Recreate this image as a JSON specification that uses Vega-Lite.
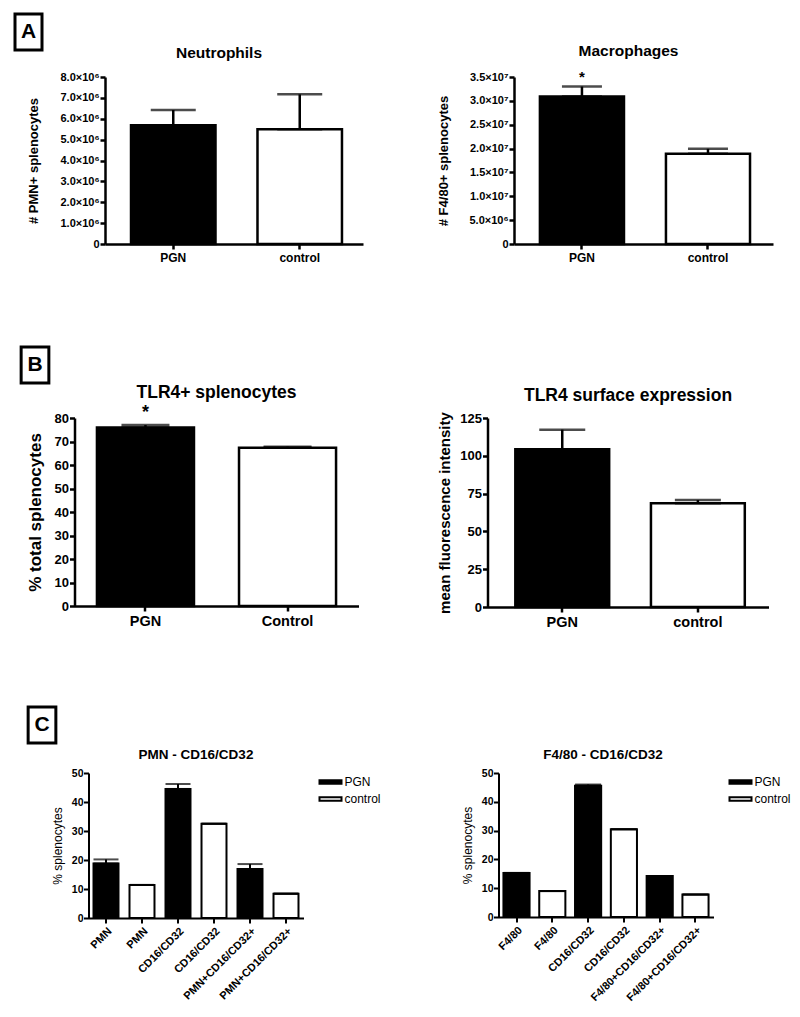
{
  "$schema": "https://vega.github.io/schema/vega-lite/v6.json",
  "background": "white",
  "padding": {"left": 9, "top": 8, "right": 0, "bottom": 0},
  "spacing": 70,
  "resolve": {"scale": {"fill": "independent"}, "legend": {"fill": "independent"}},
  "vconcat": [
    {
      "spacing": -21,
      "resolve": {"scale": {"fill": "independent"}, "legend": {"fill": "independent"}},
      "hconcat": [
        {
          "width": 39, "height": 48,
          "data": {"values": [{"label": "A"}]},
          "layer": [
            {"mark": {"type": "point", "shape": "M-0.75,-1H0.75V1H-0.75Z", "size": 1296, "filled": true, "fill": "white", "stroke": "black", "strokeWidth": 3, "opacity": 1}, "encoding": {}},
            {"mark": {"type": "text", "fontSize": 21, "fontWeight": "bold", "baseline": "middle", "align": "center", "color": "black"}, "encoding": {"text": {"field": "label"}}}
          ]
        },
        {
          "spacing": 35,
          "resolve": {"scale": {"fill": "independent"}, "legend": {"fill": "independent"}},
          "vconcat": [
            {"width": 1, "height": 1, "data": {"values": []}, "mark": "point"},
            {
              "resolve": {"scale": {"fill": "independent"}, "legend": {"fill": "independent"}},
              "bounds": "flush",
              "spacing": 151,
              "hconcat": [
                {
                  "width": 258, "height": 167,
                  "title": {"text": "Neutrophils", "fontSize": 15.5, "offset": 10, "dx": -15},
                  "data": {"values": [
                    {"group": "PGN", "value": 5690000, "err": 6420000},
                    {"group": "control", "value": 5500000, "err": 7170000}
                  ]},
                  "encoding": {
                    "x": {"field": "group", "type": "nominal", "sort": null, "scale": {"paddingInner": 0.332, "paddingOuter": 0.186, "align": 0.553}, "axis": {"title": null, "labelAngle": 0, "labelFontSize": 12, "labelPadding": 3, "domainWidth": 2.5, "tickWidth": 2.5, "tickSize": 5}},
                    "y": {"field": "value", "type": "quantitative", "title": "# PMN+ splenocytes", "scale": {"domain": [0, 8000000], "nice": false}, "axis": {"values": [0, 1000000, 2000000, 3000000, 4000000, 5000000, 6000000, 7000000, 8000000], "labelExpr": "datum.value == 0 ? '0' : format(datum.value / 1000000, '.1f') + '×10⁶'", "labelFontSize": 11, "labelPadding": 1, "titleFontSize": 13, "titlePadding": 19.5, "domainWidth": 2.5, "tickWidth": 2.5, "tickSize": 5}}
                  },
                  "layer": [
                    {"mark": {"type": "bar", "stroke": "black", "strokeWidth": 2.5}, "encoding": {"fill": {"field": "group", "type": "nominal", "scale": {"domain": ["PGN", "control"], "range": ["black", "white"]}, "legend": null}}},
                    {"mark": {"type": "errorbar", "ticks": true, "size": 45, "thickness": 2.5, "color": "black"}, "encoding": {"y2": {"field": "err"}}}
                  ]
                },
                {
                  "width": 259, "height": 167,
                  "title": {"text": "Macrophages", "fontSize": 15.5, "offset": 10, "dx": -15},
                  "data": {"values": [
                    {"group": "PGN", "value": 30900000, "err": 33000000, "sig": "*"},
                    {"group": "control", "value": 18900000, "err": 19950000, "sig": ""}
                  ]},
                  "encoding": {
                    "x": {"field": "group", "type": "nominal", "sort": null, "scale": {"paddingInner": 0.333, "paddingOuter": 0.194, "align": 0.53}, "axis": {"title": null, "labelAngle": 0, "labelFontSize": 12, "labelPadding": 3, "domainWidth": 2.5, "tickWidth": 2.5, "tickSize": 5}},
                    "y": {"field": "value", "type": "quantitative", "title": "# F4/80+ splenocytes", "scale": {"domain": [0, 35000000], "nice": false}, "axis": {"values": [0, 5000000, 10000000, 15000000, 20000000, 25000000, 30000000, 35000000], "labelExpr": "datum.value == 0 ? '0' : datum.value < 10000000 ? format(datum.value / 1000000, '.1f') + '×10⁶' : format(datum.value / 10000000, '.1f') + '×10⁷'", "labelFontSize": 11, "labelPadding": 1, "titleFontSize": 13, "titlePadding": 18.5, "domainWidth": 2.5, "tickWidth": 2.5, "tickSize": 5}}
                  },
                  "layer": [
                    {"mark": {"type": "bar", "stroke": "black", "strokeWidth": 2.5}, "encoding": {"fill": {"field": "group", "type": "nominal", "scale": {"domain": ["PGN", "control"], "range": ["black", "white"]}, "legend": null}}},
                    {"mark": {"type": "errorbar", "ticks": true, "size": 40, "thickness": 2.5, "color": "black"}, "encoding": {"y2": {"field": "err"}}},
                    {"mark": {"type": "text", "fontSize": 15, "fontWeight": "bold", "baseline": "alphabetic", "dy": -5, "color": "black"}, "encoding": {
                      "y": {"field": "err", "type": "quantitative", "title": "# F4/80+ splenocytes", "scale": {"domain": [0, 35000000], "nice": false}},
                      "text": {"field": "sig"}
                    }}
                  ]
                }
              ]
            }
          ]
        }
      ]
    },
    {
      "spacing": -34.5,
      "resolve": {"scale": {"fill": "independent"}, "legend": {"fill": "independent"}},
      "hconcat": [
        {
          "width": 52, "height": 64,
          "data": {"values": [{"label": "B"}]},
          "layer": [
            {"mark": {"type": "point", "shape": "M-0.77,-1H0.77V1H-0.77Z", "size": 1296, "filled": true, "fill": "white", "stroke": "black", "strokeWidth": 3, "opacity": 1}, "encoding": {}},
            {"mark": {"type": "text", "fontSize": 21, "fontWeight": "bold", "baseline": "middle", "align": "center", "color": "black"}, "encoding": {"text": {"field": "label"}}}
          ]
        },
        {
          "spacing": 49,
          "resolve": {"scale": {"fill": "independent"}, "legend": {"fill": "independent"}},
          "vconcat": [
            {"width": 1, "height": 1, "data": {"values": []}, "mark": "point"},
            {
              "resolve": {"scale": {"fill": "independent"}, "legend": {"fill": "independent"}},
              "bounds": "flush",
              "spacing": 129,
              "hconcat": [
                {
                  "width": 284, "height": 188,
                  "title": {"text": "TLR4+ splenocytes", "fontSize": 17.5, "offset": 3},
                  "data": {"values": [
                    {"group": "PGN", "value": 76.0, "err": 77.0, "sig": "*"},
                    {"group": "Control", "value": 67.3, "err": 67.8, "sig": ""}
                  ]},
                  "encoding": {
                    "x": {"field": "group", "type": "nominal", "sort": null, "scale": {"paddingInner": 0.317, "paddingOuter": 0.158, "align": 0.5}, "axis": {"title": null, "labelAngle": 0, "labelFontSize": 14.5, "labelPadding": 3.5, "domainWidth": 2.5, "tickWidth": 2.5, "tickSize": 5}},
                    "y": {"field": "value", "type": "quantitative", "title": "% total splenocytes", "scale": {"domain": [0, 80], "nice": false}, "axis": {"values": [0, 10, 20, 30, 40, 50, 60, 70, 80], "labelFontSize": 13, "labelPadding": 1, "titleFontSize": 17, "titlePadding": 9.5, "domainWidth": 2.5, "tickWidth": 2.5, "tickSize": 5}}
                  },
                  "layer": [
                    {"mark": {"type": "bar", "stroke": "black", "strokeWidth": 2.5}, "encoding": {"fill": {"field": "group", "type": "nominal", "scale": {"domain": ["PGN", "Control"], "range": ["black", "white"]}, "legend": null}}},
                    {"mark": {"type": "errorbar", "ticks": true, "size": 48, "thickness": 2.5, "color": "black"}, "encoding": {"y2": {"field": "err"}}},
                    {"mark": {"type": "text", "fontSize": 18, "fontWeight": "bold", "baseline": "alphabetic", "dy": -7, "color": "black"}, "encoding": {
                      "y": {"field": "err", "type": "quantitative", "title": "% total splenocytes", "scale": {"domain": [0, 80], "nice": false}},
                      "text": {"field": "sig"}
                    }}
                  ]
                },
                {
                  "width": 281, "height": 189,
                  "title": {"text": "TLR4 surface expression", "fontSize": 17.5, "offset": 7.5},
                  "data": {"values": [
                    {"group": "PGN", "value": 104.3, "err": 117.3},
                    {"group": "control", "value": 68.7, "err": 70.7}
                  ]},
                  "encoding": {
                    "x": {"field": "group", "type": "nominal", "sort": null, "scale": {"paddingInner": 0.308, "paddingOuter": 0.19, "align": 0.54}, "axis": {"title": null, "labelAngle": 0, "labelFontSize": 14.5, "labelPadding": 3.5, "domainWidth": 2.5, "tickWidth": 2.5, "tickSize": 5}},
                    "y": {"field": "value", "type": "quantitative", "title": "mean fluorescence intensity", "scale": {"domain": [0, 125], "nice": false}, "axis": {"values": [0, 25, 50, 75, 100, 125], "labelFontSize": 13, "labelPadding": 1, "titleFontSize": 15, "titlePadding": 7, "domainWidth": 2.5, "tickWidth": 2.5, "tickSize": 5}}
                  },
                  "layer": [
                    {"mark": {"type": "bar", "stroke": "black", "strokeWidth": 2.5}, "encoding": {"fill": {"field": "group", "type": "nominal", "scale": {"domain": ["PGN", "control"], "range": ["black", "white"]}, "legend": null}}},
                    {"mark": {"type": "errorbar", "ticks": true, "size": 46, "thickness": 2.5, "color": "black"}, "encoding": {"y2": {"field": "err"}}}
                  ]
                }
              ]
            }
          ]
        }
      ]
    },
    {
      "spacing": -23.5,
      "resolve": {"scale": {"fill": "independent"}, "legend": {"fill": "independent"}},
      "hconcat": [
        {
          "width": 66, "height": 52,
          "data": {"values": [{"label": "C"}]},
          "layer": [
            {"mark": {"type": "point", "shape": "M-0.77,-1H0.77V1H-0.77Z", "size": 1296, "filled": true, "fill": "white", "stroke": "black", "strokeWidth": 3, "opacity": 1}, "encoding": {}},
            {"mark": {"type": "text", "fontSize": 21, "fontWeight": "bold", "baseline": "middle", "align": "center", "color": "black"}, "encoding": {"text": {"field": "label"}}}
          ]
        },
        {
          "spacing": 47,
          "resolve": {"scale": {"fill": "independent"}, "legend": {"fill": "independent"}},
          "vconcat": [
            {"width": 1, "height": 1, "data": {"values": []}, "mark": "point"},
            {
              "resolve": {"scale": {"fill": "independent"}, "legend": {"fill": "independent"}},
              "bounds": "flush",
              "spacing": 195,
              "hconcat": [
                {
                  "width": 215, "height": 145,
                  "title": {"text": "PMN - CD16/CD32", "fontSize": 13.5, "offset": 7},
                  "data": {"values": [
                    {"key": "PMN|PGN", "group": "PGN", "value": 18.8, "err": 20.2},
                    {"key": "PMN|control", "group": "control", "value": 11.4, "err": 11.4},
                    {"key": "CD16/CD32|PGN", "group": "PGN", "value": 44.5, "err": 46.2},
                    {"key": "CD16/CD32|control", "group": "control", "value": 32.5, "err": 32.5},
                    {"key": "PMN+CD16/CD32+|PGN", "group": "PGN", "value": 16.9, "err": 18.6},
                    {"key": "PMN+CD16/CD32+|control", "group": "control", "value": 8.4, "err": 8.4}
                  ]},
                  "encoding": {
                    "x": {"field": "key", "type": "nominal", "sort": null, "scale": {"paddingInner": 0.306, "paddingOuter": 0.139}, "axis": {"title": null, "labelAngle": -45, "labelExpr": "split(datum.label, '|')[0]", "labelFontSize": 11, "labelPadding": 2, "domainWidth": 2, "tickWidth": 2, "tickSize": 5}},
                    "y": {"field": "value", "type": "quantitative", "title": "% splenocytes", "scale": {"domain": [0, 50], "nice": false}, "axis": {"values": [0, 10, 20, 30, 40, 50], "labelFontSize": 10.5, "labelPadding": 0.5, "titleFontSize": 12, "titleFontWeight": "normal", "titlePadding": 6.5, "domainWidth": 2, "tickWidth": 2, "tickSize": 5}}
                  },
                  "layer": [
                    {"mark": {"type": "bar", "stroke": "black", "strokeWidth": 2}, "encoding": {"fill": {"field": "group", "type": "nominal", "scale": {"domain": ["PGN", "control"], "range": ["black", "white"]}, "legend": {"orient": "right", "title": null, "offset": 18, "padding": 0, "symbolType": "M-1.375,-0.22H1.375V0.22H-1.375Z", "symbolSize": 256, "symbolStrokeColor": "black", "symbolStrokeWidth": 2, "labelFontSize": 12, "labelFontWeight": "normal", "labelOffset": 5, "rowPadding": 2, "encode": {"symbols": {"update": {"stroke": {"value": "black"}, "strokeWidth": {"value": 2}}}}}}}},
                    {"mark": {"type": "errorbar", "ticks": true, "size": 25, "thickness": 2, "color": "black"}, "encoding": {"y2": {"field": "err"}}}
                  ]
                },
                {
                  "width": 215, "height": 144,
                  "title": {"text": "F4/80 - CD16/CD32", "fontSize": 13.5, "offset": 7, "dx": -3},
                  "data": {"values": [
                    {"key": "F4/80|PGN", "group": "PGN", "value": 15.3, "err": 15.3},
                    {"key": "F4/80|control", "group": "control", "value": 9.0, "err": 9.0},
                    {"key": "CD16/CD32|PGN", "group": "PGN", "value": 45.6, "err": 46.0},
                    {"key": "CD16/CD32|control", "group": "control", "value": 30.5, "err": 30.5},
                    {"key": "F4/80+CD16/CD32+|PGN", "group": "PGN", "value": 14.2, "err": 14.2},
                    {"key": "F4/80+CD16/CD32+|control", "group": "control", "value": 7.8, "err": 7.8}
                  ]},
                  "encoding": {
                    "x": {"field": "key", "type": "nominal", "sort": null, "scale": {"paddingInner": 0.27, "paddingOuter": 0.138}, "axis": {"title": null, "labelAngle": -45, "labelExpr": "split(datum.label, '|')[0]", "labelFontSize": 11, "labelPadding": 2, "domainWidth": 2, "tickWidth": 2, "tickSize": 5}},
                    "y": {"field": "value", "type": "quantitative", "title": "% splenocytes", "scale": {"domain": [0, 50], "nice": false}, "axis": {"values": [0, 10, 20, 30, 40, 50], "labelFontSize": 10.5, "labelPadding": 0.5, "titleFontSize": 12, "titleFontWeight": "normal", "titlePadding": 6.5, "domainWidth": 2, "tickWidth": 2, "tickSize": 5}}
                  },
                  "layer": [
                    {"mark": {"type": "bar", "stroke": "black", "strokeWidth": 2}, "encoding": {"fill": {"field": "group", "type": "nominal", "scale": {"domain": ["PGN", "control"], "range": ["black", "white"]}, "legend": {"orient": "right", "title": null, "offset": 18, "padding": 0, "symbolType": "M-1.375,-0.22H1.375V0.22H-1.375Z", "symbolSize": 256, "symbolStrokeColor": "black", "symbolStrokeWidth": 2, "labelFontSize": 12, "labelFontWeight": "normal", "labelOffset": 5, "rowPadding": 2, "encode": {"symbols": {"update": {"stroke": {"value": "black"}, "strokeWidth": {"value": 2}}}}}}}},
                    {"mark": {"type": "errorbar", "ticks": true, "size": 26, "thickness": 2, "color": "black"}, "encoding": {"y2": {"field": "err"}}}
                  ]
                }
              ]
            }
          ]
        }
      ]
    }
  ],
  "config": {
    "font": "Liberation Sans",
    "view": {"stroke": null},
    "axis": {"grid": false, "domainColor": "black", "tickColor": "black", "labelColor": "black", "titleColor": "black", "labelFontWeight": "bold", "titleFontWeight": "bold", "labelFont": "Liberation Sans", "titleFont": "Liberation Sans", "labelOverlap": false, "labelFlush": false},
    "title": {"color": "black", "fontWeight": "bold", "font": "Liberation Sans", "frame": "group", "anchor": "middle"},
    "legend": {"labelFont": "Liberation Sans", "labelColor": "black"}
  }
}
